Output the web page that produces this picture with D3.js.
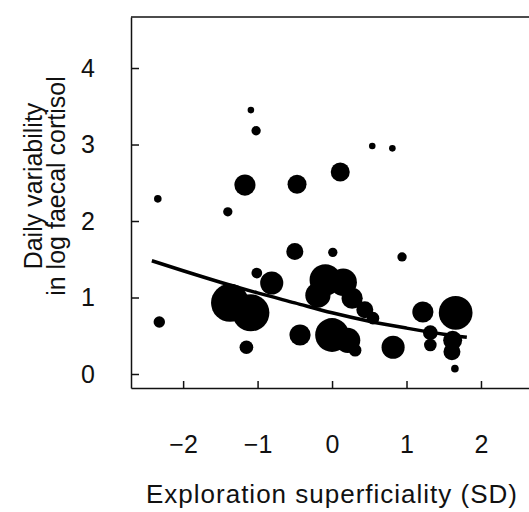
<!DOCTYPE html>
<html>
<head>
<meta charset="utf-8">
<script src="https://cdn.jsdelivr.net/npm/d3@7"></script>
<style>
  body { margin: 0; background: #fff; }
  svg { display: block; }
</style>
</head>
<body>
<div id="chart"></div>
<script>
// exploration superficiality (SD) for each individual
const explX = [-2.34, -1.09, -1.02, -1.17, -1.40, -0.47, 0.11, 0.54, 0.81, 0.94,
               0.01, -0.50, -1.01, -0.81, -2.32, -1.15, -1.37, -1.09, -0.43, -0.09,
               0.15, -0.19, 0.27, 0.44, 0.55, 0.00, 0.21, 0.31, 0.82, 1.22,
               1.66, 1.32, 1.32, 1.62, 1.61, 1.65];
// daily variability in log faecal cortisol
const cortisolY = [2.29, 3.45, 3.18, 2.47, 2.12, 2.48, 2.64, 2.98, 2.95, 1.53,
                   1.59, 1.60, 1.32, 1.19, 0.68, 0.35, 0.93, 0.80, 0.51, 1.23,
                   1.20, 1.03, 0.99, 0.84, 0.73, 0.51, 0.44, 0.31, 0.35, 0.81,
                   0.80, 0.54, 0.38, 0.44, 0.29, 0.07];
// relative weight (bubble area)
const weights = [4, 3, 6, 31, 6, 25, 25, 3, 3, 6,
                 6, 20, 8, 37, 9, 13, 100, 95, 31, 69,
                 52, 44, 31, 20, 11, 79, 44, 11, 37, 31,
                 79, 15, 11, 25, 20, 4];

// fitted curve
const trendX = [-2.42, -2, -1.5, -1, -0.5, 0, 0.5, 1, 1.5, 1.81];
const trendY = [1.48, 1.35, 1.20, 1.06, 0.93, 0.80, 0.69, 0.60, 0.52, 0.48];

const xTicks = [-2, -1, 0, 1, 2];
const yTicks = [0, 1, 2, 3, 4];

const width = 529, height = 512;
const FONT = "'Liberation Sans', Arial, Helvetica, sans-serif";

let svg = d3.select("#chart").append("svg")
    .attr("width", width)
    .attr("height", height);

let xScale = d3.scaleLinear().domain([-2.7, 2.645]).range([131, 529]);
let yScale = d3.scaleLinear().domain([-0.183, 4.667]).range([388, 17]);
let rScale = d3.scaleSqrt().domain([0, 100]).range([0, 19]);

// top frame line
svg.append("line")
    .attr("x1", xScale.range()[0]).attr("x2", xScale.range()[1])
    .attr("y1", yScale.range()[1]).attr("y2", yScale.range()[1])
    .attr("stroke", "#111").attr("stroke-width", 1.5);

// bubbles
let pts = explX.map((d, i) => ({x: d, y: cortisolY[i], w: weights[i]}));
svg.append("g").selectAll("circle")
    .data(pts)
    .join("circle")
    .attr("cx", d => xScale(d.x))
    .attr("cy", d => yScale(d.y))
    .attr("r", d => rScale(d.w))
    .attr("fill", "#000");

// trend line
let line = d3.line()
    .curve(d3.curveMonotoneX)
    .x(d => xScale(d[0]))
    .y(d => yScale(d[1]));
svg.append("path")
    .datum(trendX.map((d, i) => [d, trendY[i]]))
    .attr("d", line)
    .attr("fill", "none")
    .attr("stroke", "#000")
    .attr("stroke-width", 3.5);

// axes
let fmt = d3.format("d");
let xAxis = svg.append("g")
    .attr("transform", "translate(0,388)")
    .call(d3.axisBottom(xScale).tickValues(xTicks).tickFormat(fmt)
        .tickSizeInner(-7).tickSizeOuter(0).tickPadding(47));
let yAxis = svg.append("g")
    .attr("transform", "translate(131,0)")
    .call(d3.axisLeft(yScale).tickValues(yTicks).tickFormat(fmt)
        .tickSizeInner(-8).tickSizeOuter(0).tickPadding(36));

[xAxis, yAxis].forEach(g => {
  g.attr("font-size", 25).attr("font-family", FONT);
  g.selectAll("path, line").attr("stroke", "#111").attr("stroke-width", 1.5);
  g.selectAll("text").attr("fill", "#111");
});

// axis titles
svg.append("text")
    .attr("x", 332).attr("y", 503)
    .attr("text-anchor", "middle")
    .attr("font-family", FONT).attr("font-size", 26)
    .attr("letter-spacing", 1)
    .attr("fill", "#111")
    .text("Exploration superficiality (SD)");

let yTitle = svg.append("text")
    .attr("transform", "translate(0,186) rotate(-90)")
    .attr("text-anchor", "middle")
    .attr("font-family", FONT).attr("font-size", 25)
    .attr("fill", "#111");
yTitle.append("tspan").attr("x", 0).attr("y", 42).text("Daily variability");
yTitle.append("tspan").attr("x", 0).attr("y", 65).text("in log faecal cortisol");
</script>
</body>
</html>
